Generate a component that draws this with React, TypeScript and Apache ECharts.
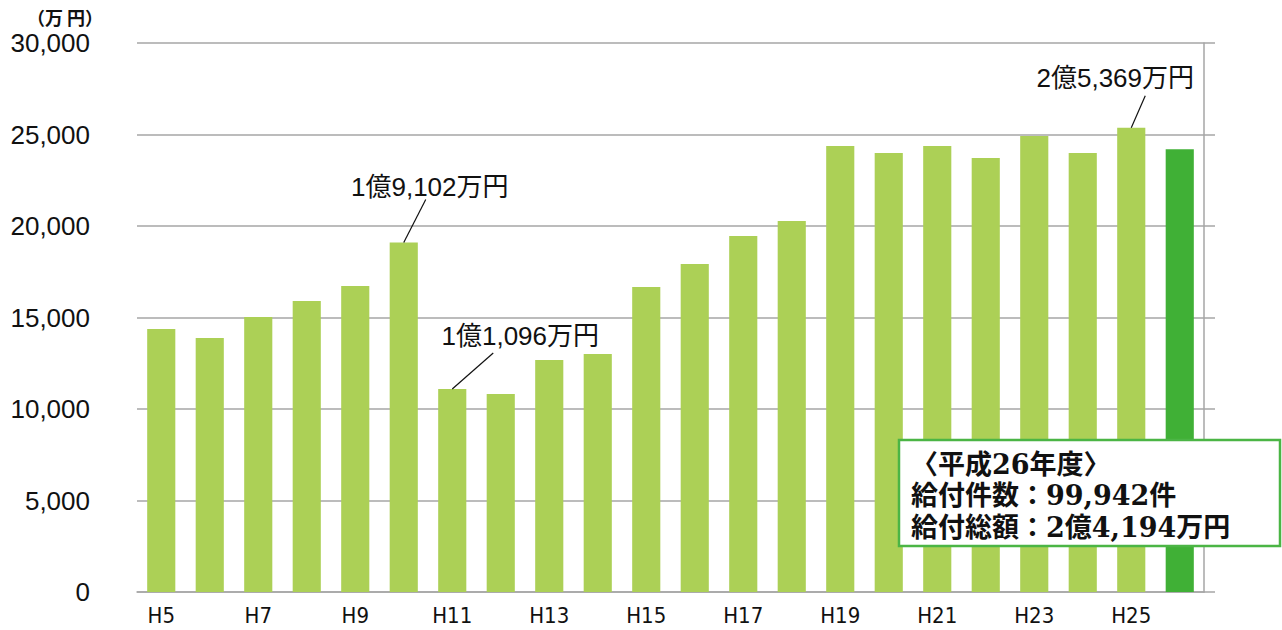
import React, { useEffect, useRef } from "react";
import * as echarts from "echarts";

const categories = ["H5","H6","H7","H8","H9","H10","H11","H12","H13","H14","H15","H16","H17","H18","H19","H20","H21","H22","H23","H24","H25","H26"];
const amounts = [14370, 13880, 15030, 15900, 16720, 19102, 11096, 10820, 12680, 13000, 16670, 17920, 19450, 20270, 24370, 23990, 24370, 23720, 24920, 23990, 25369, 24194];
const yMin = 0;
const yMax = 30000;
const yInterval = 5000;
const unitLabel = "（万 円）";
const callouts = [
  { index: 5, text: "1億9,102万円" },
  { index: 6, text: "1億1,096万円" },
  { index: 20, text: "2億5,369万円" },
];
const infoLines = ["〈平成26年度〉", "給付件数：99,942件", "給付総額：2億4,194万円"];

const LIGHT = "#acd056";
const DARK = "#40b036";
const GRIDC = "#a6a6a6";

// callout offsets (line end relative to bar top, text center relative to bar top)
const calloutGeom: Record<number, { lx: number; ly: number; tx: number; ty: number }> = {
  5: { lx: 22, ly: -43, tx: 26, ty: -55 },
  6: { lx: 41, ly: -36, tx: 68, ty: -53 },
  20: { lx: 14, ly: -32, tx: -16, ty: -50 },
};

export default function App() {
  const ref = useRef<HTMLDivElement>(null);
  useEffect(() => {
    if (!ref.current) return;
    const chart = echarts.init(ref.current, null, { renderer: "svg" });
    const lastIdx = amounts.length - 1;
    chart.setOption({
      animation: false,
      grid: [
        { left: 137, right: 78, top: 43, bottom: 38 },
        { left: 1204, width: 11, top: 43, bottom: 38 },
      ],
      xAxis: [
        {
          type: "category",
          gridIndex: 0,
          data: categories,
          axisLine: { show: true, lineStyle: { color: GRIDC, width: 1.5 } },
          axisTick: { show: false },
          axisLabel: {
            interval: 1,
            margin: 12,
            color: "#111",
            fontSize: 22,
            fontFamily: "'Liberation Sans Narrow', 'DejaVu Sans Condensed', 'Liberation Sans', sans-serif",
          },
        },
        { type: "category", gridIndex: 1, data: ["x"], show: false },
      ],
      yAxis: [
        {
          type: "value",
          gridIndex: 0,
          min: yMin,
          max: yMax,
          interval: yInterval,
          axisLine: { show: false },
          axisTick: { show: false },
          splitLine: { show: true, lineStyle: { color: GRIDC, width: 1.5 } },
          axisLabel: {
            margin: 47,
            color: "#111",
            fontSize: 26,
            fontFamily: "'Liberation Sans', Arial, sans-serif",
            formatter: (v: number) => v.toLocaleString("en-US"),
          },
        },
        {
          type: "value",
          gridIndex: 0,
          position: "right",
          min: yMin,
          max: yMax,
          interval: yInterval,
          axisLine: { show: true, lineStyle: { color: GRIDC, width: 1.5 } },
          axisTick: { show: false },
          axisLabel: { show: false },
          splitLine: { show: false },
        },
        {
          type: "value",
          gridIndex: 1,
          min: yMin,
          max: yMax,
          interval: yInterval,
          axisLine: { show: false },
          axisTick: { show: false },
          axisLabel: { show: false },
          splitLine: { show: true, lineStyle: { color: GRIDC, width: 1.5 } },
        },
      ],
      series: [
        {
          type: "bar",
          xAxisIndex: 0,
          yAxisIndex: 0,
          barWidth: "58%",
          data: amounts.map((v, i) => ({
            value: v,
            itemStyle: { color: i === lastIdx ? DARK : LIGHT },
          })),
        },
      ],
    });

    const graphics: any[] = [
      {
        type: "text",
        x: 65,
        y: 17,
        style: {
          text: unitLabel,
          font: "bold 18px 'Noto Sans CJK JP', sans-serif",
          fill: "#111",
          textAlign: "center",
          textVerticalAlign: "middle",
        },
      },
    ];
    callouts.forEach((c) => {
      const g = calloutGeom[c.index];
      const p = chart.convertToPixel({ xAxisIndex: 0, yAxisIndex: 0 }, [categories[c.index], amounts[c.index]]) as number[];
      graphics.push({
        type: "line",
        shape: { x1: p[0], y1: p[1], x2: p[0] + g.lx, y2: p[1] + g.ly },
        style: { stroke: "#111", lineWidth: 1.2 },
        z: 10,
      });
      graphics.push({
        type: "text",
        x: p[0] + g.tx,
        y: p[1] + g.ty,
        style: {
          text: c.text,
          font: "26px 'Liberation Sans', 'Noto Sans CJK JP', sans-serif",
          fill: "#111",
          textAlign: "center",
          textVerticalAlign: "middle",
        },
        z: 10,
      });
    });
    graphics.push({
      type: "rect",
      shape: { x: 899, y: 440, width: 381, height: 106 },
      style: { fill: "#fff", stroke: "#4bb545", lineWidth: 2.5 },
      z: 20,
    });
    infoLines.forEach((t, i) => {
      graphics.push({
        type: "text",
        x: 911,
        y: 464 + i * 31.5,
        style: {
          text: t,
          font: "bold 27px 'DejaVu Serif', 'Noto Sans CJK JP', serif",
          fill: "#111",
          textAlign: "left",
          textVerticalAlign: "middle",
        },
        z: 21,
      });
    });
    chart.setOption({ graphic: graphics });

    return () => chart.dispose();
  }, []);
  return (
    <div
      ref={ref}
      style={{ position: "fixed", left: 0, top: 0, width: 1282, height: 630, background: "#fff" }}
    />
  );
}
